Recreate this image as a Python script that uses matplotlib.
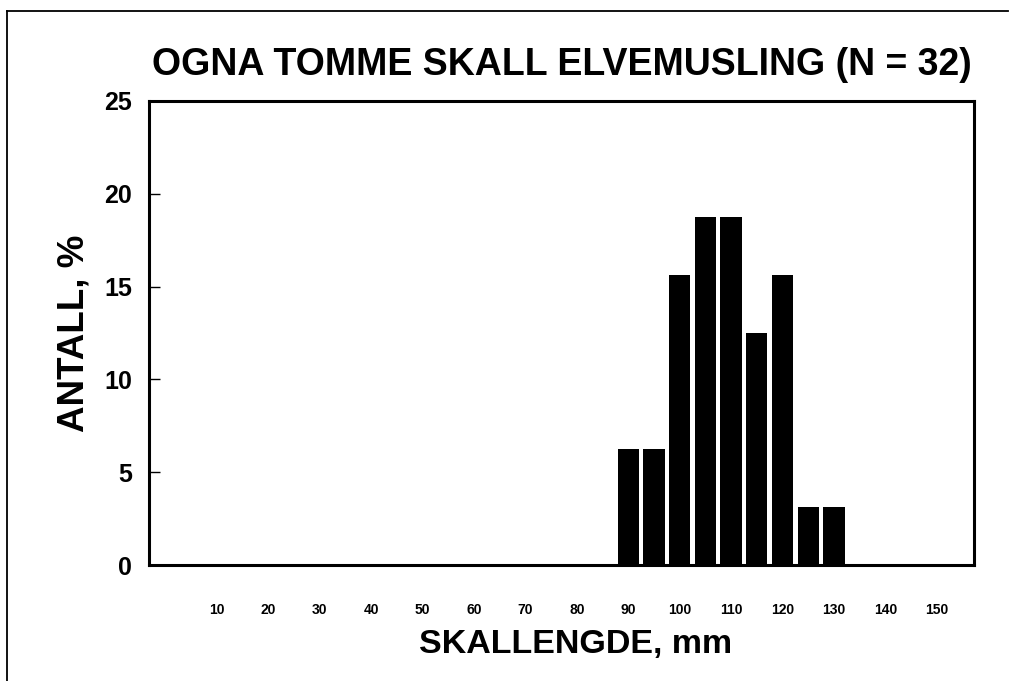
import numpy as np
import matplotlib.pyplot as plt
from matplotlib.lines import Line2D

plt.rcParams['font.family'] = ['Liberation Sans', 'DejaVu Sans']
plt.rcParams['font.weight'] = 'bold'

lengths = [90, 95, 100, 105, 110, 115, 120, 125, 130]
percent = [6.25, 6.25, 15.625, 18.75, 18.75, 12.5, 15.625, 3.125, 3.125]
xticks = [10, 20, 30, 40, 50, 60, 70, 80, 90, 100, 110, 120, 130, 140, 150]
yticks = [0, 5, 10, 15, 20, 25]

fig = plt.figure(figsize=(10.11, 6.81), dpi=100)
ax = fig.add_axes([0.1474, 0.1703, 0.9634 - 0.1474, 0.8517 - 0.1703])

ax.bar(lengths, percent, width=4.15, color='black')

ax.set_xlim(-3.2, 157.25)
ax.set_ylim(0, 25)
ax.set_xticks(xticks)
ax.set_yticks(yticks)
ax.tick_params(axis='x', length=0, pad=27, labelsize=10)
ax.tick_params(axis='y', direction='in', length=8, width=1, pad=12, labelsize=18)
for s in ax.spines.values():
    s.set_linewidth(2.2)

ax.set_title('OGNA TOMME SKALL ELVEMUSLING (N = 32)', fontsize=27, fontweight='bold', pad=19)
ax.set_xlabel('SKALLENGDE, mm', fontsize=24.5, fontweight='bold')
ax.xaxis.set_label_coords(0.5176, -0.138)
ax.set_ylabel('ANTALL, %', fontsize=26.5, fontweight='bold', labelpad=9)

# outer frame (top and left only)
fig.add_artist(Line2D([7 / 1011, 1008 / 1011], [1 - 11 / 681, 1 - 11 / 681],
                      transform=fig.transFigure, color='black', linewidth=1.3))
fig.add_artist(Line2D([7 / 1011, 7 / 1011], [1 - 11 / 681, 0],
                      transform=fig.transFigure, color='black', linewidth=1.3))

fig.savefig('out.png', dpi=100)
